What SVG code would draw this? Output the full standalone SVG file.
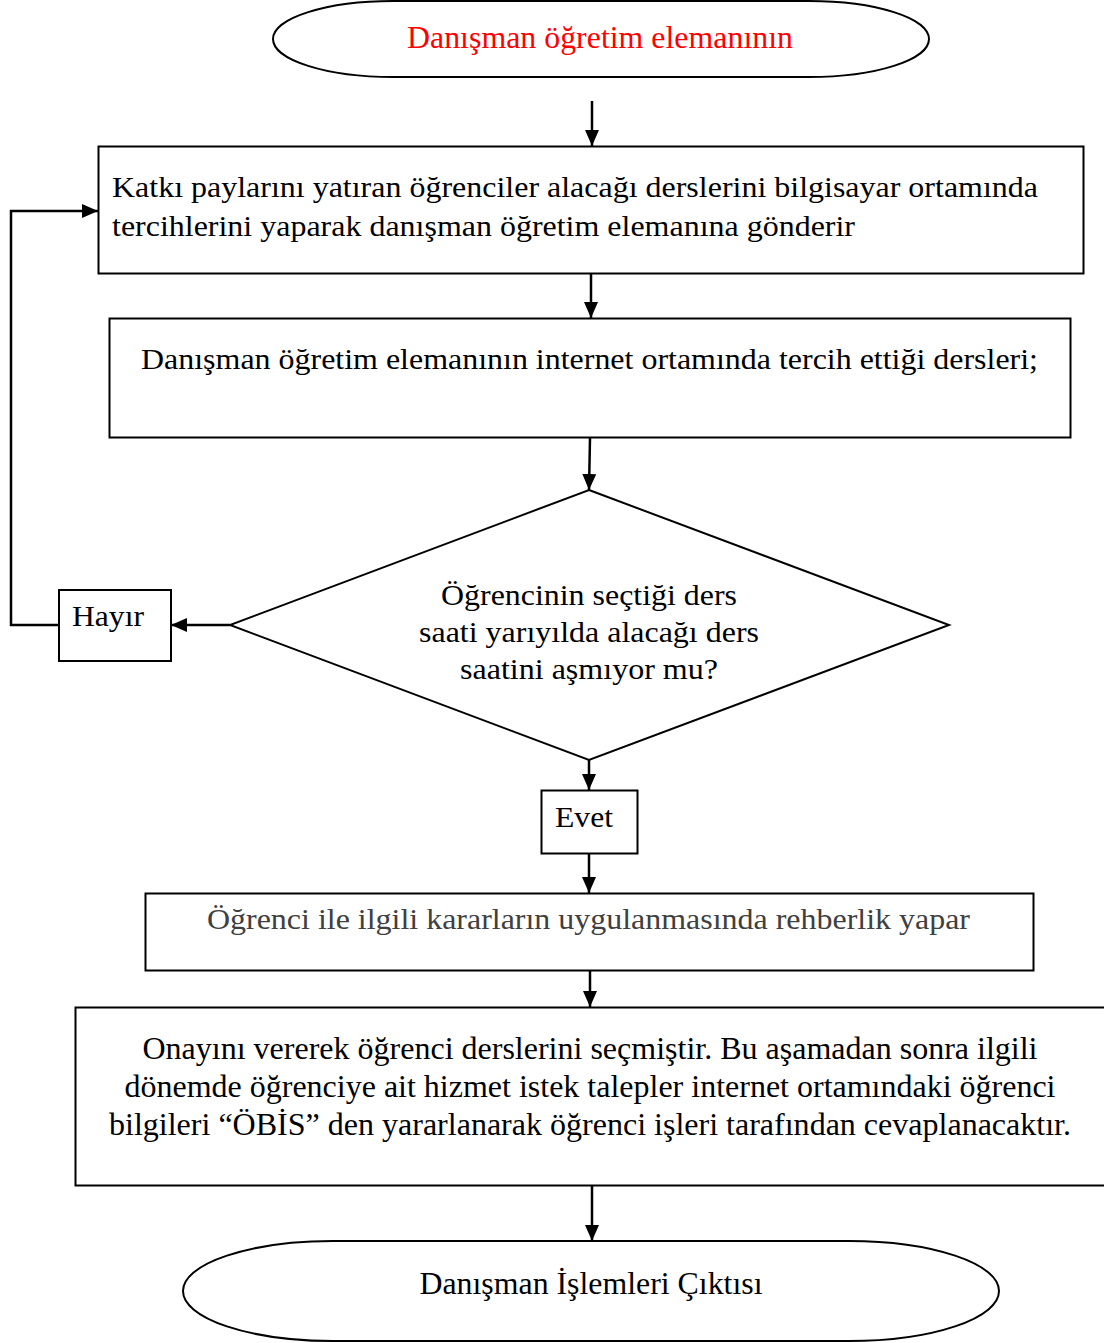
<svg xmlns="http://www.w3.org/2000/svg" width="1104" height="1343" viewBox="0 0 1104 1343">
  <style>
    .shape { fill: #ffffff; stroke: #000000; stroke-width: 2; }
    .txt { font-family: "Liberation Serif", "Times New Roman", serif; font-size: 29.33px; fill: #000000; }
    .tall { font-size: 32px; }
    .mid { text-anchor: middle; }
    .red { fill: #ff0000; }
    .grey { fill: #404040; }
    .conn { fill: none; stroke: #000000; stroke-width: 2.5; }
  </style>
  <defs>
    <marker id="arrowL" markerWidth="16" markerHeight="14" refX="16" refY="7" orient="auto" markerUnits="userSpaceOnUse" viewBox="0 0 16 14">
      <path d="M0,0 L16,7 L0,14 z" fill="#000000"/>
    </marker>
  </defs>
  <rect width="1104" height="1343" fill="#ffffff"/>

  <g id="start">
    <rect class="shape" x="273" y="1" width="656" height="76" rx="120" ry="38"/>
    <text class="txt tall mid red" x="600" y="48" textLength="386" lengthAdjust="spacingAndGlyphs">Danışman öğretim elemanının</text>
  </g>

  <g id="submit">
    <rect class="shape" x="98.5" y="146.5" width="985" height="127"/>
    <text class="txt" x="112" y="197" textLength="926" lengthAdjust="spacingAndGlyphs">Katkı paylarını yatıran öğrenciler alacağı derslerini bilgisayar ortamında</text>
    <text class="txt" x="112" y="236" textLength="743" lengthAdjust="spacingAndGlyphs">tercihlerini yaparak danışman öğretim elemanına gönderir</text>
  </g>

  <g id="review">
    <rect class="shape" x="109.5" y="318.5" width="961" height="119"/>
    <text class="txt" x="141" y="369" textLength="897" lengthAdjust="spacingAndGlyphs">Danışman öğretim elemanının internet ortamında tercih ettiği dersleri;</text>
  </g>

  <g id="decision">
    <polygon class="shape" points="589,490 949,625 589,760 230,625"/>
    <text class="txt mid" x="589" y="605" textLength="296" lengthAdjust="spacingAndGlyphs">Öğrencinin seçtiği ders</text>
    <text class="txt mid" x="589" y="642" textLength="340" lengthAdjust="spacingAndGlyphs">saati yarıyılda alacağı ders</text>
    <text class="txt mid" x="589" y="679" textLength="258" lengthAdjust="spacingAndGlyphs">saatini aşmıyor mu?</text>
  </g>

  <g id="no">
    <rect class="shape" x="59" y="590" width="112" height="71"/>
    <text class="txt" x="72" y="626" textLength="72" lengthAdjust="spacingAndGlyphs">Hayır</text>
  </g>

  <g id="yes">
    <rect class="shape" x="541.5" y="790.5" width="96" height="63"/>
    <text class="txt" x="555" y="827" textLength="58" lengthAdjust="spacingAndGlyphs">Evet</text>
  </g>

  <g id="guidance">
    <rect class="shape" x="145.5" y="893.5" width="888" height="77"/>
    <text class="txt grey" x="207" y="929" textLength="763" lengthAdjust="spacingAndGlyphs">Öğrenci ile ilgili kararların uygulanmasında rehberlik yapar</text>
  </g>

  <g id="approval">
    <rect class="shape" x="75.5" y="1007.5" width="1040" height="178"/>
    <text class="txt tall mid" x="590" y="1059" textLength="895" lengthAdjust="spacingAndGlyphs">Onayını vererek öğrenci derslerini seçmiştir. Bu aşamadan sonra ilgili</text>
    <text class="txt tall mid" x="590" y="1097" textLength="931" lengthAdjust="spacingAndGlyphs">dönemde öğrenciye ait hizmet istek talepler internet ortamındaki öğrenci</text>
    <text class="txt tall mid" x="590" y="1135" textLength="962" lengthAdjust="spacingAndGlyphs">bilgileri “ÖBİS” den yararlanarak öğrenci işleri tarafından cevaplanacaktır.</text>
  </g>

  <g id="end">
    <rect class="shape" x="183" y="1241" width="816" height="100" rx="150" ry="50"/>
    <text class="txt tall mid" x="591" y="1294" textLength="343" lengthAdjust="spacingAndGlyphs">Danışman İşlemleri Çıktısı</text>
  </g>

  <g id="connectors">
    <line class="conn" x1="592" y1="101" x2="592" y2="146" marker-end="url(#arrowL)"/>
    <line class="conn" x1="591" y1="274" x2="591" y2="318" marker-end="url(#arrowL)"/>
    <line class="conn" x1="590" y1="438" x2="589" y2="490" marker-end="url(#arrowL)"/>
    <line class="conn" x1="230" y1="625" x2="171" y2="625" marker-end="url(#arrowL)"/>
    <polyline class="conn" points="59,625 11,625 11,211 98,211" marker-end="url(#arrowL)"/>
    <line class="conn" x1="589" y1="760" x2="589" y2="790" marker-end="url(#arrowL)"/>
    <line class="conn" x1="589" y1="854" x2="589" y2="893" marker-end="url(#arrowL)"/>
    <line class="conn" x1="590" y1="971" x2="590" y2="1007" marker-end="url(#arrowL)"/>
    <line class="conn" x1="592" y1="1186" x2="592" y2="1241" marker-end="url(#arrowL)"/>
  </g>
</svg>
